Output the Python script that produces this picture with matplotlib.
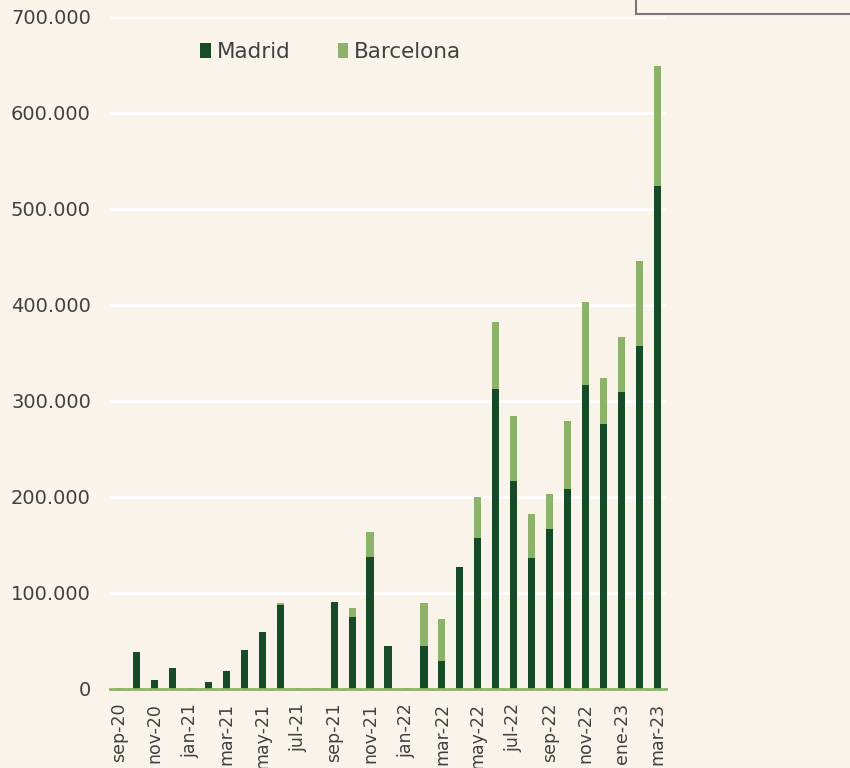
import numpy as np
import matplotlib.pyplot as plt
from matplotlib.patches import Rectangle

# meses (sep-20 .. mar-23)
meses = ["sep-20", "oct-20", "nov-20", "dic-20", "jan-21", "feb-21", "mar-21", "apr-21",
         "may-21", "jun-21", "jul-21", "aug-21", "sep-21", "oct-21", "nov-21", "dic-21",
         "jan-22", "feb-22", "mar-22", "apr-22", "may-22", "jun-22", "jul-22", "aug-22",
         "sep-22", "oct-22", "nov-22", "dic-22", "ene-23", "feb-23", "mar-23"]

madrid = [-1500, 38500, 9400, 22000, -1500, 7300, 18800, 40600,
          59400, 87500, -1500, -1500, 90600, 75000, 137500, 44800,
          -1500, 44800, 29000, 127000, 157000, 312500, 217000, 136500,
          166700, 208000, 316700, 275700, 309400, 357300, 524000]

barcelona = [1500, 0, 0, 0, 1500, 0, 0, 0,
             0, 2000, 1500, 1500, 0, 9400, 26000, 0,
             1500, 44800, 44000, 0, 42700, 69500, 67400, 45500,
             36300, 70800, 86100, 47900, 57300, 88700, 125000]

etiquetas = ["sep-20", "nov-20", "jan-21", "mar-21", "may-21", "jul-21", "sep-21", "nov-21",
             "jan-22", "mar-22", "may-22", "jul-22", "sep-22", "nov-22", "ene-23", "mar-23"]

fondo = "#FAF3EA"
verde_osc = "#154B26"
verde_cla = "#8DB36A"
gris = "#404040"

plt.rcParams['font.family'] = ['DejaVu Sans']

fig = plt.figure(figsize=(8.5, 7.68), dpi=100, facecolor=fondo)
ax = fig.add_axes([0.129, 0.1029, 0.655, 0.8750], facecolor=fondo)

x = np.arange(len(meses))
mad = np.array(madrid)
bar = np.array(barcelona)
base = np.where(mad > 0, mad, 0)

ax.bar(x, mad, width=0.4, color=verde_osc, label="Madrid", zorder=3)
ax.bar(x, bar, width=0.4, bottom=base, color=verde_cla, label="Barcelona", zorder=3)

ax.set_xlim(-0.5, len(meses) - 0.5)
ax.set_ylim(0, 700000)
ax.set_yticks(np.arange(0, 700001, 100000))
ax.set_yticklabels(["0" if v == 0 else f"{v:,}".replace(",", ".") for v in range(0, 700001, 100000)])
ax.set_xticks(x[::2])
ax.set_xticklabels(etiquetas, rotation=90, va="top", ha="center")

ax.grid(axis="y", color="white", linewidth=2, zorder=0)
ax.tick_params(axis="y", length=0, pad=13.5, labelsize=14, labelcolor=gris)
ax.tick_params(axis="x", length=0, pad=10, labelsize=12.5, labelcolor=gris)
for s in ["top", "right", "left"]:
    ax.spines[s].set_visible(False)
ax.spines["bottom"].set_color(verde_cla)
ax.spines["bottom"].set_linewidth(2)
ax.spines["bottom"].set_zorder(4)

fig.legend(loc="center left", bbox_to_anchor=(0.213, 0.932), ncol=2, frameon=False,
           fontsize=15.5, handlelength=0.5, handleheight=0.7, handletextpad=0.25,
           columnspacing=2.2, labelcolor=gris)

# recuadro superior derecho
fig.add_artist(Rectangle((0.748, 0.982), 0.3, 0.05, transform=fig.transFigure,
                         facecolor=fondo, edgecolor="#777777", linewidth=1.5))

fig.savefig("out.png", dpi=100, facecolor=fondo)
